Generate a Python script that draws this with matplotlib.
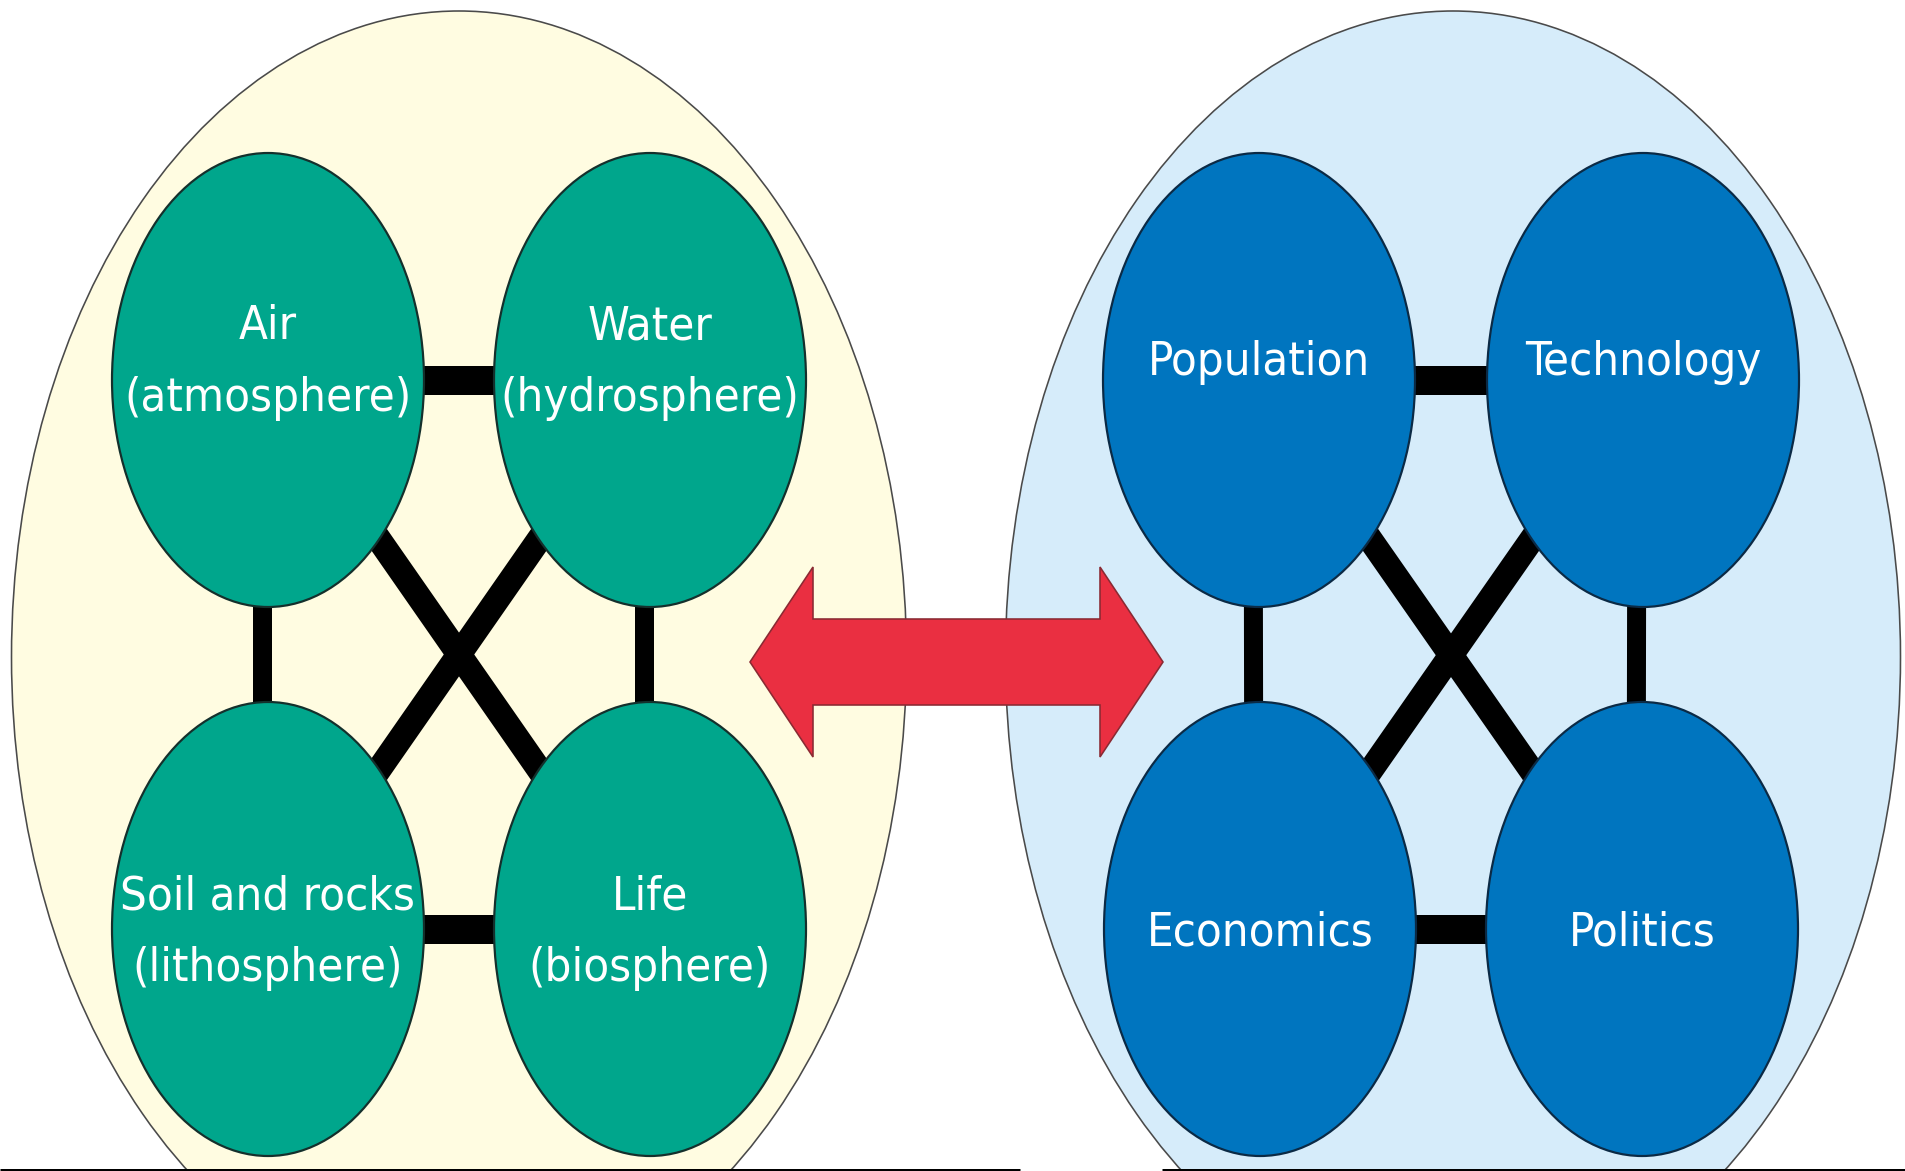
import matplotlib
matplotlib.use("Agg")
import matplotlib.pyplot as plt
import matplotlib.font_manager as fm
from matplotlib.patches import Ellipse, Polygon

# ---------------- data ----------------
labels = ["Air\n(atmosphere)", "Water\n(hydrosphere)",
          "Soil and rocks\n(lithosphere)", "Life\n(biosphere)",
          "Population", "Technology", "Economics", "Politics"]
node_x = [268, 650, 268, 650, 1259, 1643, 1260, 1642]
node_y = [380, 380, 929, 929, 380, 380, 929, 929]
node_group = [0, 0, 0, 0, 1, 1, 1, 1]
# connections inside each group (index pairs): horizontal, vertical, diagonal
edges_h = [(0, 1), (2, 3), (4, 5), (6, 7)]
edges_v = [(0, 2), (1, 3), (4, 6), (5, 7)]
edges_d = [(0, 3), (1, 2), (4, 7), (5, 6)]

group_x = [459, 1453]
group_y = [657, 657]

# ---------------- style ----------------
W, H = 1905, 1171
node_w, node_h = 312, 454
group_w, group_h = 895, 1292
group_fill = ["#FFFCE1", "#D6ECFA"]
node_fill = ["#00A68C", "#0075BF"]
arrow_fill = "#EA2F41"
px = 0.72  # points per pixel at dpi 100

fig = plt.figure(figsize=(W / 100, H / 100), dpi=100)
ax = fig.add_axes([0, 0, 1, 1])
ax.set_xlim(0, W)
ax.set_ylim(H, 0)
ax.axis("off")

# big group ellipses
for gx, gy, fc in zip(group_x, group_y, group_fill):
    ax.add_patch(Ellipse((gx, gy), group_w, group_h, facecolor=fc,
                         edgecolor="#4a4a4a", linewidth=1.6 * px, zorder=1))

# connectors
def draw_edges(edges, lw, dx=0.0):
    for a, b in edges:
        ax.plot([node_x[a] + dx, node_x[b] + dx], [node_y[a], node_y[b]],
                color="black", linewidth=lw * px, solid_capstyle="butt",
                zorder=2)

draw_edges(edges_h, 29)
draw_edges(edges_v, 19, dx=-6)
draw_edges(edges_d, 25)

# node ellipses
for x, y, g in zip(node_x, node_y, node_group):
    ax.add_patch(Ellipse((x, y), node_w, node_h, facecolor=node_fill[g],
                         edgecolor="#14302c" if g == 0 else "#0b2a45",
                         linewidth=2.2 * px, zorder=3))

# double arrow
ax_x0, ax_x1, ax_yc = 750, 1163, 662
shaft_half, head_half, head_len = 43, 95, 63
arrow_pts = [
    (ax_x0, ax_yc),
    (ax_x0 + head_len, ax_yc - head_half),
    (ax_x0 + head_len, ax_yc - shaft_half),
    (ax_x1 - head_len, ax_yc - shaft_half),
    (ax_x1 - head_len, ax_yc - head_half),
    (ax_x1, ax_yc),
    (ax_x1 - head_len, ax_yc + head_half),
    (ax_x1 - head_len, ax_yc + shaft_half),
    (ax_x0 + head_len, ax_yc + shaft_half),
    (ax_x0 + head_len, ax_yc + head_half),
]
ax.add_patch(Polygon(arrow_pts, closed=True, facecolor=arrow_fill,
                     edgecolor="#8a2a33", linewidth=1.6 * px, zorder=4))

# bottom rule with gap
ax.plot([0, 1020], [1169.5, 1169.5], color="black", linewidth=3 * px, zorder=5,
        solid_capstyle="butt")
ax.plot([1162, W], [1169.5, 1169.5], color="black", linewidth=3 * px, zorder=5,
        solid_capstyle="butt")

# ---------------- text ----------------
def pick_font():
    ents = fm.fontManager.ttflist
    for e in ents:
        if e.name == "Liberation Sans Narrow" and e.style == "normal" and \
                str(e.weight) in ("400", "normal"):
            return fm.FontProperties(fname=e.fname)
    for e in ents:
        fn = e.fname.lower()
        if "dejavusanscondensed.ttf" in fn:
            return fm.FontProperties(fname=e.fname)
    return fm.FontProperties(family="Liberation Sans")

fp = pick_font()
fp.set_size(40)
renderer = fig.canvas.get_renderer()
probe = ax.text(0, 0, "Population", fontproperties=fp)
wpx = probe.get_window_extent(renderer).width
probe.remove()
size = 40 * 222.0 / wpx
fp.set_size(size)

line_gap = 72          # baseline-to-baseline distance in pixels
row_shift = {0: -5, 1: 16}  # baseline centre offset for upper / lower row
mid_y = (min(node_y) + max(node_y)) / 2
for lab, x, y in zip(labels, node_x, node_y):
    lines = lab.split("\n")
    n = len(lines)
    shift = row_shift[0] if y < mid_y else row_shift[1]
    for i, line in enumerate(lines):
        by = y + shift + (i - (n - 1) / 2) * line_gap
        ax.text(x, by, line, fontproperties=fp, color="white",
                ha="center", va="baseline", zorder=6)

fig.savefig("out.png", dpi=100, facecolor="white")
